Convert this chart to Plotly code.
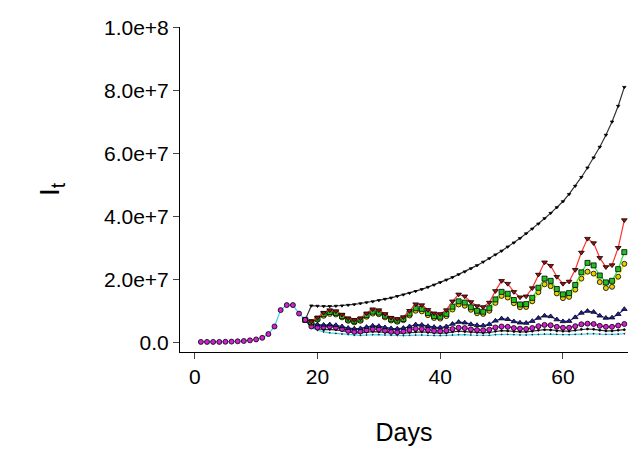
import plotly.graph_objects as go

# days 1..18 are shared by all scenarios
days = list(range(1, 71))
early = [0.1, 0.1, 0.1, 0.1, 0.15, 0.2, 0.3, 0.4, 0.6, 0.9, 1.4, 2.6, 5.0, 10.2, 11.8, 11.8, 9.1, 7.1]

# values in millions, days 19..70
black_top = [11.6, 11.5, 11.4, 11.4, 11.5, 11.6, 11.8, 12.0, 12.3, 12.6, 12.9, 13.3, 13.7, 14.1, 14.6, 15.1,
             15.6, 16.2, 16.8, 17.5, 18.2, 19.0, 19.8, 20.6, 21.5, 22.4, 23.4, 24.4, 25.5, 26.6, 27.8, 29.0,
             30.3, 31.6, 33.0, 34.5, 36.0, 37.6, 39.3, 41.0, 42.8, 44.7, 47.0, 49.6, 52.4, 55.4, 58.6, 62.0,
             65.8, 70.0, 75.0, 81.0]
red = [6.6, 7.8, 9.4, 10.2, 9.9, 8.8, 7.6, 7.1, 7.6, 9.2, 10.5, 10.2, 9.0, 7.8, 7.4, 8.0, 10.0, 12.1, 11.8,
       10.3, 9.2, 9.0, 10.2, 13.0, 15.2, 14.6, 12.8, 11.5, 11.2, 12.6, 16.3, 19.5, 18.6, 16.0, 14.3, 14.6,
       17.2, 21.5, 25.4, 24.3, 20.8, 18.6, 19.3, 23.0, 28.5, 32.9, 31.5, 26.8, 23.9, 24.5, 30.0, 38.8]
green = [6.4, 7.5, 8.9, 9.6, 9.3, 8.3, 7.2, 6.7, 7.2, 8.6, 9.7, 9.4, 8.4, 7.3, 6.9, 7.4, 9.1, 10.8, 10.6, 9.3,
         8.3, 8.1, 9.0, 11.3, 13.0, 12.6, 11.1, 10.0, 9.7, 10.8, 13.6, 16.0, 15.4, 13.4, 12.0, 12.1, 14.1,
         17.3, 20.2, 19.5, 16.9, 15.2, 15.6, 18.2, 22.2, 25.2, 24.4, 21.2, 19.0, 19.5, 23.2, 28.6]
yellow = [6.2, 7.2, 8.4, 9.0, 8.8, 7.9, 6.8, 6.3, 6.8, 8.1, 9.1, 8.9, 7.9, 6.9, 6.5, 7.0, 8.5, 10.0, 9.8, 8.6,
          7.7, 7.5, 8.3, 10.4, 12.0, 11.6, 10.3, 9.2, 9.0, 10.0, 12.5, 14.7, 14.2, 12.4, 11.1, 11.2, 13.0,
          15.9, 18.4, 17.8, 15.5, 14.0, 14.4, 16.7, 20.2, 22.4, 21.8, 19.1, 17.2, 17.6, 20.8, 24.9]
blue = [6.0, 5.6, 5.5, 5.6, 5.4, 5.0, 4.5, 4.3, 4.4, 4.8, 5.2, 5.1, 4.7, 4.4, 4.3, 4.5, 5.0, 5.6, 5.5, 5.1,
        4.8, 4.7, 5.0, 5.8, 6.4, 6.2, 5.7, 5.4, 5.3, 5.7, 6.8, 7.5, 7.3, 6.6, 6.2, 6.1, 6.7, 7.7, 8.4, 8.2,
        7.2, 6.6, 6.7, 7.9, 9.3, 9.9, 9.6, 8.4, 7.7, 7.8, 8.9, 10.5]
magenta = [5.0, 4.7, 4.8, 5.0, 4.7, 4.2, 3.6, 3.3, 3.4, 3.8, 4.2, 4.1, 3.7, 3.3, 3.2, 3.4, 3.9, 4.3, 4.2, 3.9,
           3.6, 3.5, 3.7, 4.2, 4.6, 4.5, 4.1, 3.9, 3.8, 4.0, 4.7, 5.0, 4.9, 4.5, 4.3, 4.2, 4.5, 5.1, 5.5, 5.4,
           4.9, 4.6, 4.6, 5.1, 5.7, 5.9, 5.8, 5.2, 4.9, 4.9, 5.3, 5.8]
black_low = [4.8, 4.3, 4.0, 4.1, 4.0, 3.7, 3.3, 3.0, 3.0, 3.2, 3.4, 3.3, 3.1, 2.9, 2.8, 2.9, 3.1, 3.3, 3.3, 3.1,
             2.9, 2.9, 3.0, 3.3, 3.5, 3.4, 3.2, 3.1, 3.0, 3.1, 3.5, 3.7, 3.6, 3.4, 3.3, 3.3, 3.5, 3.8, 4.0, 3.9,
             3.6, 3.5, 3.5, 3.8, 4.1, 4.2, 4.1, 3.8, 3.6, 3.6, 3.8, 4.0]
cyan = [4.5, 3.8, 3.3, 3.0, 2.8, 2.6, 2.4, 2.2, 2.2, 2.3, 2.4, 2.4, 2.3, 2.2, 2.1, 2.1, 2.2, 2.3, 2.3, 2.2,
        2.1, 2.1, 2.2, 2.3, 2.4, 2.4, 2.3, 2.2, 2.2, 2.2, 2.4, 2.5, 2.5, 2.4, 2.3, 2.3, 2.4, 2.5, 2.6, 2.6,
        2.5, 2.4, 2.4, 2.5, 2.6, 2.7, 2.7, 2.6, 2.5, 2.5, 2.6, 2.7]

y_ticks = [0, 2e7, 4e7, 6e7, 8e7, 1e8]
y_labels = ["0.0", "2.0e+7", "4.0e+7", "6.0e+7", "8.0e+7", "1.0e+8"]

fig = go.Figure()

def add(series, line_col, marker_sym, marker_col, size, full_early=False):
    vals = early + series if full_early else early[-1:] + series
    start = 1 if full_early else len(early)
    xs = list(range(start, start + len(vals)))
    fig.add_trace(go.Scatter(
        x=xs, y=[v * 1e6 for v in vals], mode="lines+markers",
        line=dict(color=line_col, width=1.2),
        marker=dict(symbol=marker_sym, color=marker_col, size=size,
                    line=dict(color="black", width=0.8))))

add(cyan, "#40d0f0", "circle", "#40d0f0", 1, full_early=True)
add(black_top, "#333333", "triangle-down", "black", 3)
add(black_low, "#333333", "circle", "black", 2)
add(magenta, "#c000c0", "circle", "#d020d0", 5)
add(blue, "#2020c0", "triangle-up", "#2020a0", 5)
add(yellow, "#f0f000", "circle", "#e8d000", 5)
add(green, "#30e030", "square", "#20c020", 5)
add(red, "#ff3030", "triangle-down", "#a01010", 5)
# shared early part drawn with magenta circles
fig.add_trace(go.Scatter(x=days[:len(early)], y=[v * 1e6 for v in early], mode="markers",
                         marker=dict(symbol="circle", color="#d020d0", size=5,
                                     line=dict(color="black", width=0.8))))

fig.update_layout(
    width=628, height=449, showlegend=False,
    plot_bgcolor="white", paper_bgcolor="white",
    margin=dict(l=172, r=8, t=12, b=105),
    font=dict(family="Arial, Liberation Sans", size=21, color="black"),
)
fig.update_xaxes(range=[-2.4, 70.6], tickvals=[0, 20, 40, 60], showline=True, linecolor="black",
                 ticks="outside", ticklen=6, showgrid=False, zeroline=False,
                 title=dict(text="Days", standoff=36))
fig.update_yaxes(range=[-3.1e6, 1.001e8], tickvals=y_ticks, ticktext=y_labels, showline=True,
                 linecolor="black", ticks="outside", ticklen=6, showgrid=False, zeroline=False,
                 title=dict(text="I<sub>t</sub>", font=dict(size=28), standoff=36))

fig.write_html("out.html")
